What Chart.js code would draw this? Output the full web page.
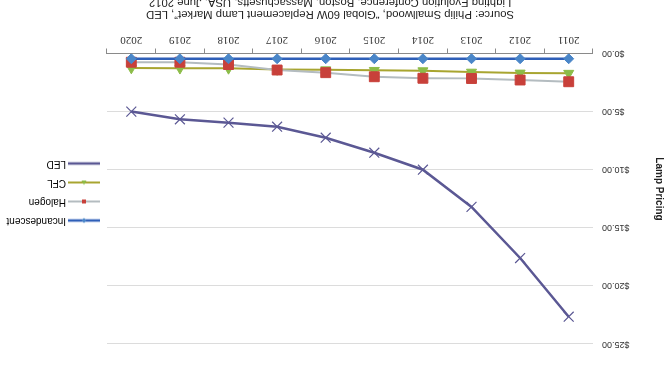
<!DOCTYPE html>
<html lang="en">
<head>
  <meta charset="UTF-8">
  <title>Lamp Pricing</title>
  <script src="https://cdn.jsdelivr.net/npm/chart.js"></script>
  <style>
    body {
      margin: 0;
      background: #fff;
    }
    #wrap {
      position: relative;
      width: 668px;
      height: 365px;
      transform: rotate(180deg);
      font-family: "Liberation Sans", Arial, sans-serif;
    }
    #grafico {
      position: absolute;
      left: 0;
      top: 0;
    }
    #fonte {
      position: absolute;
      left: 0;
      top: 344px;
      width: 676px;
      text-align: center;
      font-size: 11.3px;
      line-height: 12px;
      color: #222;
      white-space: nowrap;
    }
  </style>
</head>
<body>
  <div id="wrap">
    <canvas id="grafico" width="668" height="365"></canvas>
    <div id="fonte">
      Source: Philip Smallwood, “Global 60W Replacement Lamp Market”, LED<br>
      Lighting Evolution Conference, Boston, Massachusetts, USA, June 2012
    </div>
  </div>

  <script>
    // valores (US$ por lâmpada)
    const anos = ['2011', '2012', '2013', '2014', '2015', '2016', '2017', '2018', '2019', '2020'];
    const incandescent = [0.45, 0.45, 0.45, 0.45, 0.45, 0.45, 0.45, 0.45, 0.45, 0.45];
    const halogen = [2.43, 2.28, 2.15, 2.13, 2.00, 1.65, 1.42, 0.95, 0.75, 0.75];
    const cfl = [1.70, 1.68, 1.60, 1.48, 1.45, 1.40, 1.38, 1.28, 1.27, 1.25];
    const led = [22.65, 17.6, 13.2, 10.0, 8.54, 7.25, 6.3, 5.95, 5.66, 5.0];
    const yTicks = [0, 5, 10, 15, 20, 25];
    const tituloY = 'Lamp Pricing';

    const fonte = '"Liberation Sans", Arial, sans-serif';

    // ícone da legenda: linha com marcador pequeno no meio
    function iconeLegenda(corLinha, espessura, marcador, corMarcador) {
      const c = document.createElement('canvas');
      c.width = 32;
      c.height = 10;
      const g = c.getContext('2d');
      g.strokeStyle = corLinha;
      g.lineWidth = espessura;
      g.beginPath();
      g.moveTo(0, 5);
      g.lineTo(32, 5);
      g.stroke();
      g.fillStyle = corMarcador;
      g.beginPath();
      if (marcador === 'diamond') {
        g.moveTo(16, 2.5); g.lineTo(18.5, 5); g.lineTo(16, 7.5); g.lineTo(13.5, 5);
      } else if (marcador === 'square') {
        g.rect(14, 3, 4, 4);
      } else if (marcador === 'triangle') {
        g.moveTo(16, 2.5); g.lineTo(18.5, 7); g.lineTo(13.5, 7);
      }
      g.closePath();
      if (marcador) g.fill();
      return c;
    }

    const icones = [
      iconeLegenda('#2f5fb8', 2.5, 'diamond', '#4a86c8'),
      iconeLegenda('#b4bcc0', 2, 'square', '#c8403a'),
      iconeLegenda('#a8a530', 2, 'triangle', '#8cbc48'),
      iconeLegenda('#5b5894', 2.5, null, '#5b5894')
    ];

    // posiciona a legenda como no original
    const posLegenda = {
      id: 'posLegenda',
      afterLayout(chart) {
        const lg = chart.legend;
        const w = lg.width, h = lg.height;
        lg.left = 562;
        lg.right = 562 + w;
        lg.top = 130.5;
        lg.bottom = 130.5 + h;
      }
    };

    // título do eixo y, um pouco abaixo do centro como no original
    const tituloEixo = {
      id: 'tituloEixo',
      afterDraw(chart) {
        const c = chart.ctx;
        c.save();
        c.translate(9, 176);
        c.rotate(-Math.PI / 2);
        c.font = 'bold 10px ' + fonte;
        c.fillStyle = '#222';
        c.textAlign = 'center';
        c.textBaseline = 'middle';
        c.fillText(tituloY, 0, 0);
        c.restore();
      }
    };

    const ctx = document.getElementById('grafico').getContext('2d');

    new Chart(ctx, {
      type: 'line',
      data: {
        labels: anos,
        datasets: [
          {
            label: 'Incandescent',
            data: incandescent,
            borderColor: '#2f5fb8',
            borderWidth: 2.5,
            pointStyle: 'rectRot',
            pointRadius: 5,
            pointBackgroundColor: '#4a86c8',
            pointBorderColor: '#4a86c8',
            pointBorderWidth: 1
          },
          {
            label: 'Halogen',
            data: halogen,
            borderColor: '#b4bcc0',
            borderWidth: 2,
            pointStyle: 'rect',
            pointRadius: 7,
            pointBackgroundColor: '#c8403a',
            pointBorderColor: '#c8403a',
            pointBorderWidth: 1
          },
          {
            label: 'CFL',
            data: cfl,
            borderColor: '#a8a530',
            borderWidth: 2,
            pointStyle: 'triangle',
            pointRadius: 5.8,
            pointBackgroundColor: '#8cbc48',
            pointBorderColor: '#8cbc48',
            pointBorderWidth: 1
          },
          {
            label: 'LED',
            data: led,
            borderColor: '#5b5894',
            borderWidth: 2.5,
            pointStyle: 'crossRot',
            pointRadius: 7,
            pointBorderColor: '#5b5894',
            pointBorderWidth: 1.2
          }
        ]
      },
      options: {
        responsive: false,
        animation: false,
        layout: {
          padding: { left: 3, right: 7, top: 21, bottom: 33.5 }
        },
        elements: {
          line: { tension: 0 }
        },
        plugins: {
          legend: {
            position: 'right',
            align: 'start',
            maxWidth: 100,
            labels: {
              usePointStyle: true,
              pointStyleWidth: 26,
              padding: 9,
              color: '#222',
              font: { family: fonte, size: 10 },
              generateLabels(chart) {
                return chart.data.datasets.map((ds, i) => ({
                  text: ds.label,
                  pointStyle: icones[i],
                  datasetIndex: i,
                  hidden: false,
                  lineWidth: 0
                }));
              }
            }
          },
          tooltip: { enabled: false }
        },
        scales: {
          x: {
            offset: true,
            grid: {
              offset: true,
              drawOnChartArea: false,
              drawTicks: true,
              tickLength: 5,
              color: '#8a8a8a'
            },
            border: { color: '#8a8a8a', width: 1 },
            ticks: {
              padding: 2,
              color: '#333',
              font: { family: '"Liberation Serif", "Times New Roman", serif', size: 11 }
            },
            afterFit(scale) { scale.height = 20; }
          },
          y: {
            min: 0,
            max: 25,
            afterBuildTicks(scale) {
              scale.ticks = yTicks.map(v => ({ value: v }));
            },
            grid: {
              color: '#dcdcdc',
              drawTicks: false
            },
            border: { display: false },
            ticks: {
              padding: 9,
              color: '#333',
              font: { family: fonte, size: 9 },
              callback: v => '$' + Number(v).toFixed(2)
            },
            afterFit(scale) { scale.width = 72; }
          }
        }
      },
      plugins: [posLegenda, tituloEixo]
    });
  </script>
</body>
</html>
